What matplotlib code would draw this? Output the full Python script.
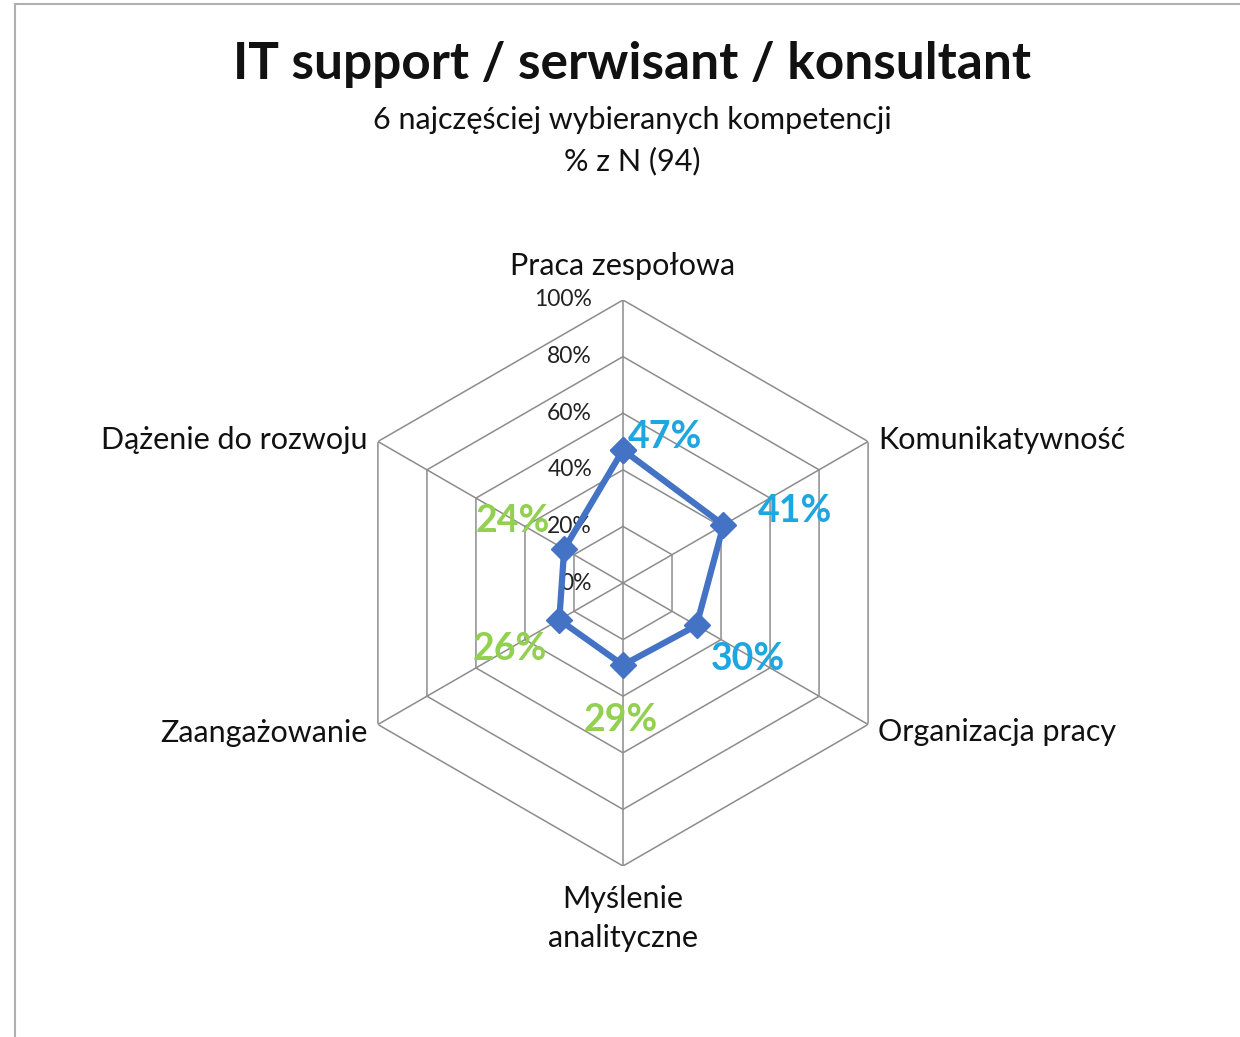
import numpy as np
import matplotlib
matplotlib.use('Agg')
import matplotlib.pyplot as plt
from matplotlib.lines import Line2D

# Data
categories = ['Praca zespołowa', 'Komunikatywność', 'Organizacja pracy',
              'Myślenie\nanalityczne', 'Zaangażowanie', 'Dążenie do rozwoju']
values = [0.47, 0.41, 0.30, 0.29, 0.26, 0.24]
levels = [0.0, 0.2, 0.4, 0.6, 0.8, 1.0]
level_labels = ['0%', '20%', '40%', '60%', '80%', '100%']

title = 'IT support / serwisant / konsultant'
subtitle = '6 najczęściej wybieranych kompetencji\n% z N (94)'

plt.rcParams['font.family'] = ['Lato', 'DejaVu Sans']

line_color = '#4472C4'
grid_color = '#8c8c8c'
blue_lbl = '#1EA6E0'
green_lbl = '#92D050'

fig = plt.figure(figsize=(12.4, 10.37), dpi=100)
W, H = 1240, 1037
cx, cy, R = 623, 583, 283
ax = fig.add_axes([(cx - R) / W, (H - cy - R) / H, 2 * R / W, 2 * R / H], projection='polar')
ax.set_theta_offset(np.pi / 2)
ax.set_theta_direction(-1)
ax.set_ylim(0, 1)
ax.grid(False)
ax.spines['polar'].set_visible(False)
ax.set_xticks([])
ax.set_yticks([])
ax.patch.set_alpha(0)

n = len(categories)
theta = np.arange(n) * 2 * np.pi / n
theta_c = np.append(theta, theta[0])

# hexagonal grid
for lv in levels[1:]:
    ax.plot(theta_c, [lv] * (n + 1), color=grid_color, lw=1.1, zorder=1)
for t in theta:
    ax.plot([t, t], [0, 1], color=grid_color, lw=1.1, zorder=1)

# level labels
for lv, lb in zip(levels, level_labels):
    ax.annotate(lb, (0, lv), xytext=(-31, 0), textcoords='offset pixels',
                ha='right', va='center', fontsize=16.5, color='#222222')

# series
vals_c = values + values[:1]
ax.plot(theta_c, vals_c, color=line_color, lw=4.5, marker='D', markersize=13.5,
        zorder=3, clip_on=False)

# data labels
lbl_offsets = [(42, 13), (72, 14), (51, -34), (-2, -55), (-49, -29), (-51, 28)]
lbl_colors = [blue_lbl, blue_lbl, blue_lbl, green_lbl, green_lbl, green_lbl]
for t, v, off, c in zip(theta, values, lbl_offsets, lbl_colors):
    ax.annotate(f'{round(v * 100)}%', (t, v), xytext=off, textcoords='offset pixels',
                ha='center', va='center', fontsize=27, fontweight='bold', color=c, zorder=4)

# category labels
cat_pos = [((0, 34), 'center', 'center'), ((10, 2), 'left', 'center'),
           ((10, -8), 'left', 'center'), ((0, -19), 'center', 'top'),
           ((-10, -8), 'right', 'center'), ((-10, 2), 'right', 'center')]
for t, cat, (off, ha, va) in zip(theta, categories, cat_pos):
    ax.annotate(cat, (t, 1.0), xytext=off, textcoords='offset pixels',
                ha=ha, va=va, fontsize=22, color='#111111',
                multialignment='center', linespacing=1.5, annotation_clip=False)

# titles
fig.text(632 / W, 1 - 65 / H, title, ha='center', va='center',
         fontsize=37, fontweight='bold', color='#111111')
fig.text(632 / W, 1 - 140.5 / H, subtitle, ha='center', va='center',
         fontsize=22, color='#111111', linespacing=1.55)

# chart border
fig.add_artist(Line2D([15 / W, 1], [1 - 4 / H, 1 - 4 / H], color='#b0b0b0', lw=1.5))
fig.add_artist(Line2D([15 / W, 15 / W], [0, 1 - 4 / H], color='#b0b0b0', lw=1.5))

fig.savefig('out.png', dpi=100, facecolor='white')
